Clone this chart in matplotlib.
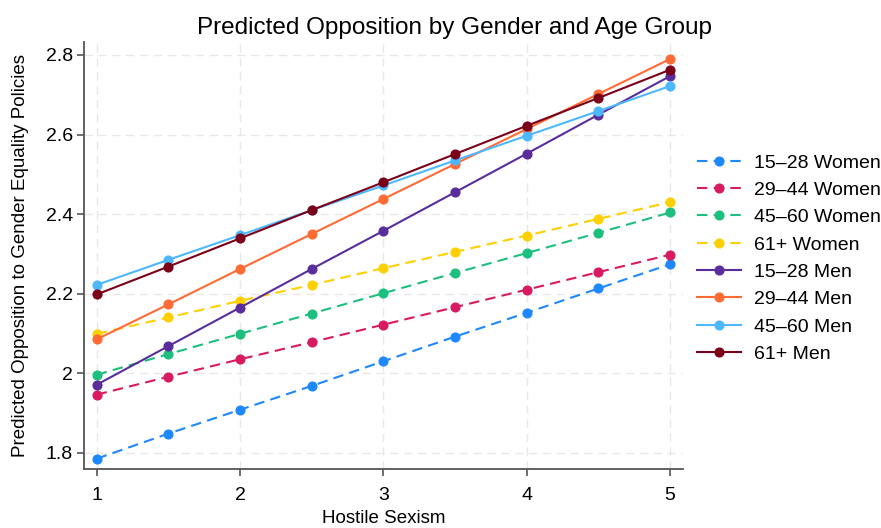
import matplotlib
matplotlib.use('Agg')
import matplotlib.pyplot as plt

plt.rcParams['font.family'] = ['Liberation Sans', 'DejaVu Sans']

x = [1, 1.5, 2, 2.5, 3, 3.5, 4, 4.5, 5]

labels = ['15\u201328 Women', '29\u201344 Women', '45\u201360 Women', '61+ Women',
          '15\u201328 Men', '29\u201344 Men', '45\u201360 Men', '61+ Men']

women_15_28 = [1.785, 1.848, 1.908, 1.968, 2.030, 2.092, 2.152, 2.213, 2.274]
women_29_44 = [1.946, 1.991, 2.035, 2.078, 2.122, 2.166, 2.210, 2.254, 2.298]
women_45_60 = [1.996, 2.048, 2.099, 2.150, 2.201, 2.252, 2.302, 2.353, 2.404]
women_61 = [2.099, 2.140, 2.182, 2.222, 2.264, 2.305, 2.346, 2.388, 2.430]
men_15_28 = [1.971, 2.068, 2.165, 2.262, 2.358, 2.455, 2.552, 2.650, 2.747]
men_29_44 = [2.085, 2.173, 2.262, 2.350, 2.438, 2.526, 2.614, 2.702, 2.790]
men_45_60 = [2.222, 2.285, 2.347, 2.410, 2.472, 2.535, 2.597, 2.659, 2.722]
men_61 = [2.198, 2.268, 2.339, 2.410, 2.480, 2.551, 2.622, 2.692, 2.763]

series = [women_15_28, women_29_44, women_45_60, women_61,
          men_15_28, men_29_44, men_45_60, men_61]
colors = ['#1e88ff', '#d81b60', '#1dbf7f', '#ffd000',
          '#5a2d9c', '#ff6b35', '#4db8ff', '#7b0019']
styles = ['--', '--', '--', '--', '-', '-', '-', '-']

fig = plt.figure(figsize=(8.81, 5.28), dpi=100)
ax = fig.add_axes([0.0953, 0.1117, 0.680, 0.809])

for vals, lab, c, ls in zip(series, labels, colors, styles):
    ax.plot(x, vals, linestyle=ls, color=c, marker='o', markersize=6.3,
            linewidth=1.5, label=lab, dashes=(5, 3) if ls == '--' else (None, None))

ax.set_xlim(0.911, 5.09)
ax.set_ylim(1.759, 2.833)
ax.set_xticks([1, 2, 3, 4, 5])
ax.set_yticks([1.8, 2.0, 2.2, 2.4, 2.6, 2.8])
ax.set_yticklabels(['1.8', '2', '2.2', '2.4', '2.6', '2.8'])
ax.tick_params(labelsize=14, color='#555555', length=5, width=1.2, pad=3)
ax.tick_params(axis='x', pad=8)
ax.grid(True, linestyle='--', color='#e8e8e8', linewidth=1, dashes=(6, 4))
ax.set_axisbelow(True)
for s in ['top', 'right']:
    ax.spines[s].set_visible(False)
for s in ['left', 'bottom']:
    ax.spines[s].set_color('#555555')
    ax.spines[s].set_linewidth(1.3)

fig.text(455 / 881, 1 - 28 / 528, 'Predicted Opposition by Gender and Age Group',
         fontsize=17.5, ha='center', va='center')
ax.set_xlabel('Hostile Sexism', fontsize=13.5, labelpad=4)
ax.set_ylabel('Predicted Opposition to Gender Equality Policies', fontsize=13.5, labelpad=12)

ax.legend(loc='center left', bbox_to_anchor=(1.023, 0.493), frameon=False,
          fontsize=14, handlelength=2.26, handletextpad=0.67, labelspacing=0.5,
          borderaxespad=0, borderpad=0)

fig.savefig('out.png', dpi=100)
